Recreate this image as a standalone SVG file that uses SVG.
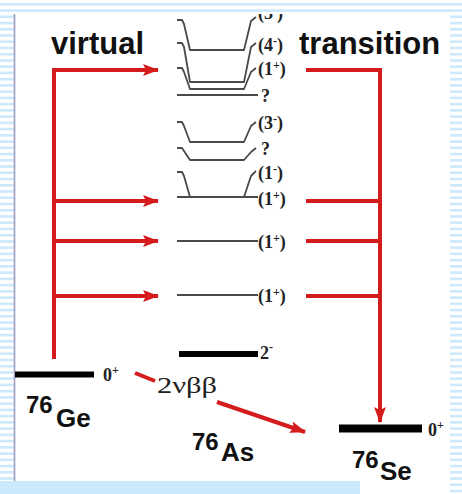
<svg xmlns="http://www.w3.org/2000/svg" width="462" height="494" viewBox="0 0 462 494">
<defs>
<pattern id="stripes" x="0" y="3" width="20" height="6.24" patternUnits="userSpaceOnUse">
<rect width="20" height="6.24" fill="#ffffff"/>
<rect width="20" height="2.6" fill="#cde8fb"/>
</pattern>
<marker id="ah" viewBox="0 0 16 12" refX="15" refY="6" markerWidth="16" markerHeight="12" markerUnits="userSpaceOnUse" orient="auto">
<path d="M0,0 L16,6 L0,12 L3,6 Z" fill="#d41c1c"/>
</marker>
<style>
.red{stroke:#d41c1c;stroke-width:4;fill:none}
.lvl{stroke:#4a4a4a;stroke-width:1.8;fill:none;stroke-linejoin:round}
.bar{stroke:#000;fill:none}
.big{font-family:"Liberation Sans",Arial,sans-serif;font-weight:bold;fill:#111}
.jp{font-family:"Liberation Serif","Times New Roman",serif;font-weight:bold;font-size:18px;fill:#222}
.sup{font-size:12px}
</style>
</defs>
<rect width="462" height="494" fill="url(#stripes)"/>
<rect x="15" y="14" width="435" height="480" fill="#ffffff"/>
<rect x="0" y="481" width="360" height="13" fill="#cce9fc"/>
<line x1="14.5" y1="14" x2="14.5" y2="481" stroke="#9c9cc4" stroke-width="1.6"/>

<g id="labels-top">
<text class="big" x="51" y="54" font-size="31">virtual</text>
<text class="big" x="299" y="54" font-size="31">transition</text>
</g>

<g id="levels">
<g id="lvA"><path class="lvl" d="M177,20 H182 L184,24 L190,50 H244 L251,21 L256,17"/><text class="jp" x="258" y="19">(3<tspan class="sup" dy="-6">-</tspan><tspan dy="6">)</tspan></text></g>
<g id="lvB"><path class="lvl" d="M177,43 H182 L184,47 L190,82 H244 L251,47 L256,43"/><text class="jp" x="258" y="51">(4<tspan class="sup" dy="-6">-</tspan><tspan dy="6">)</tspan></text></g>
<g id="lvC"><path class="lvl" d="M177,68 H182 L184,72 L190,89 H244 L251,72 L256,68"/><text class="jp" x="258" y="75">(1<tspan class="sup" dy="-6">+</tspan><tspan dy="6">)</tspan></text></g>
<g id="lvD"><path class="lvl" d="M177,95 H258"/><text class="jp" x="261" y="102">?</text></g>
<g id="lvE"><path class="lvl" d="M177,122 H182 L184,126 L190,142 H244 L251,126 L256,122"/><text class="jp" x="258" y="129">(3<tspan class="sup" dy="-6">-</tspan><tspan dy="6">)</tspan></text></g>
<g id="lvF"><path class="lvl" d="M177,148 H182 L184,151 L190,160 H244 L251,152 L256,148"/><text class="jp" x="261" y="155">?</text></g>
<g id="lvG"><path class="lvl" d="M177,172 H182 L184,176 L190,197 H244 L251,176 L256,171"/><text class="jp" x="258" y="179">(1<tspan class="sup" dy="-6">-</tspan><tspan dy="6">)</tspan></text></g>
<g id="lvH"><path class="lvl" d="M177,197 H258" stroke-width="2.2"/><text class="jp" x="258" y="205">(1<tspan class="sup" dy="-6">+</tspan><tspan dy="6">)</tspan></text></g>
<g id="lvI"><path class="lvl" d="M177,241 H258"/><text class="jp" x="258" y="248">(1<tspan class="sup" dy="-6">+</tspan><tspan dy="6">)</tspan></text></g>
<g id="lvJ"><path class="lvl" d="M177,295 H258"/><text class="jp" x="258" y="302">(1<tspan class="sup" dy="-6">+</tspan><tspan dy="6">)</tspan></text></g>
<g id="lv2m"><line class="bar" x1="179" y1="354" x2="258" y2="354" stroke-width="6"/><text class="jp" x="260" y="359" font-size="19">2<tspan class="sup" dy="-8">-</tspan></text></g>
</g>

<g id="ge">
<line class="bar" x1="15" y1="374.5" x2="94" y2="374.5" stroke-width="6"/>
<text class="jp" x="103" y="381">0<tspan class="sup" dy="-7">+</tspan></text>
<text class="big" x="26" y="413" font-size="24">76</text>
<text class="big" x="56" y="427" font-size="26">Ge</text>
</g>

<g id="as">
<text class="big" x="192" y="450" font-size="24">76</text>
<text class="big" x="221" y="461" font-size="26">As</text>
</g>

<g id="se">
<line class="bar" x1="339" y1="428.5" x2="422" y2="428.5" stroke-width="8"/>
<text class="jp" x="428" y="436">0<tspan class="sup" dy="-7">+</tspan></text>
<text class="big" x="352" y="468" font-size="24">76</text>
<text class="big" x="380" y="480" font-size="26">Se</text>
</g>

<g id="connectors">
<path class="red" d="M54,359 V70"/>
<path class="red" d="M52,70 H158" marker-end="url(#ah)"/>
<path class="red" d="M54,201 H158" marker-end="url(#ah)"/>
<path class="red" d="M54,241 H158" marker-end="url(#ah)"/>
<path class="red" d="M54,296 H158" marker-end="url(#ah)"/>
<path class="red" d="M306,70 H380 V422" marker-end="url(#ah)"/>
<path class="red" d="M306,201 H380"/>
<path class="red" d="M306,241 H380"/>
<path class="red" d="M306,296 H380"/>
<path class="red" d="M135,373 L155,381"/>
<path class="red" d="M217,402 L305,432" marker-end="url(#ah)"/>
<text x="157" y="393" font-family="Liberation Serif,'Times New Roman',serif" font-size="24" textLength="60" lengthAdjust="spacingAndGlyphs" fill="#222">2νββ</text>
</g>

<rect x="15" y="0" width="447" height="14" fill="url(#stripes)"/>
</svg>
